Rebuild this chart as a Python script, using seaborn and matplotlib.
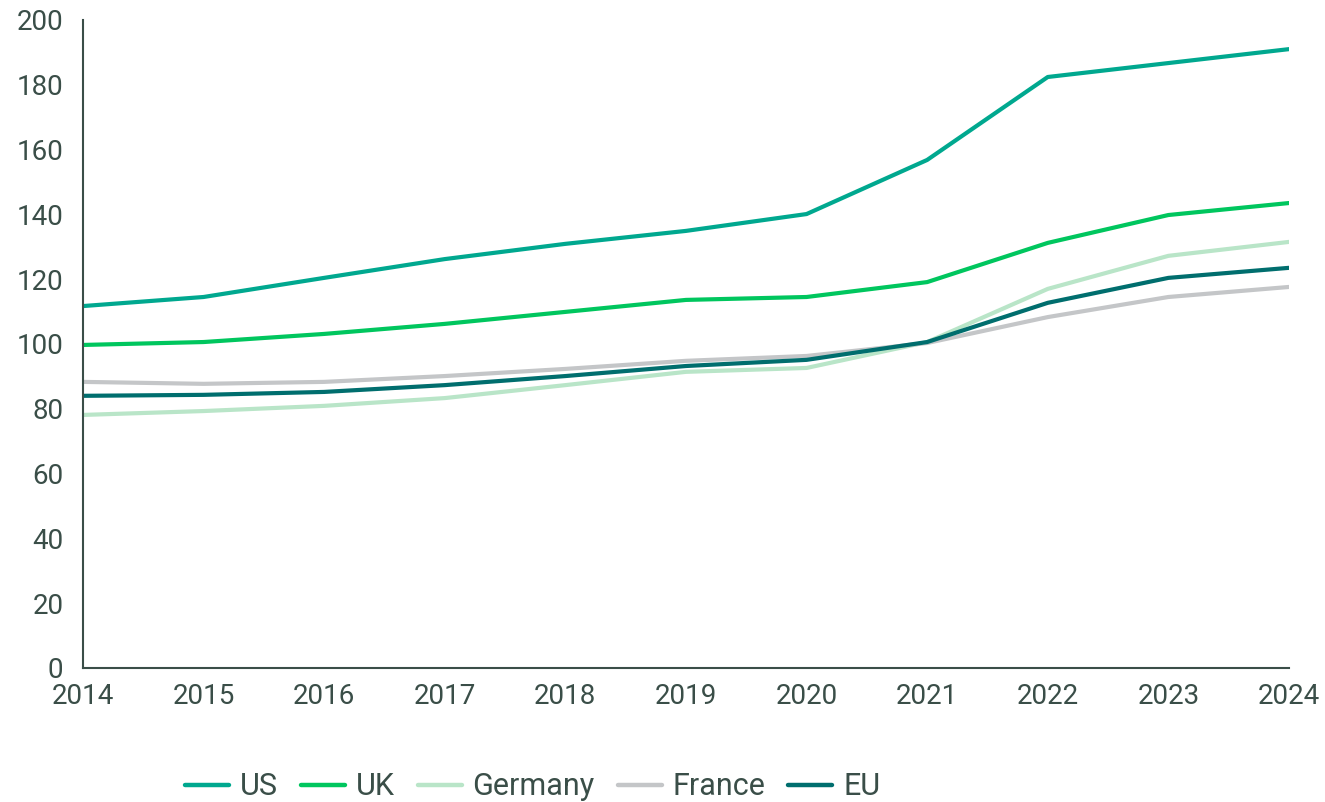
"""
Index lines for US, UK, Germany, France and EU, 2014-2024.
"""

import pandas as pd
import matplotlib.pyplot as plt
import seaborn as sns

years = list(range(2014, 2025))
us = [111.7, 114.5, 120.4, 126.2, 130.9, 134.9, 140.1, 156.8, 182.4, 186.7, 191.0]
uk = [99.7, 100.6, 103.1, 106.2, 109.9, 113.6, 114.5, 119.1, 131.2, 139.8, 143.5]
germany = [78.1, 79.3, 80.9, 83.3, 87.3, 91.4, 92.6, 100.6, 117.0, 127.2, 131.5]
france = [88.3, 87.7, 88.3, 90.1, 92.3, 94.8, 96.3, 100.3, 108.3, 114.5, 117.6]
eu = [84.0, 84.3, 85.2, 87.3, 90.1, 93.2, 95.1, 100.6, 112.7, 120.4, 123.5]

series = {"US": us, "UK": uk, "Germany": germany, "France": france, "EU": eu}
colors = {"US": "#00A88F", "UK": "#00C65E", "Germany": "#B9E5C8",
          "France": "#C4C6C8", "EU": "#006E6E"}
TEXT = "#3A4E48"

df = pd.concat(
    [pd.DataFrame({"year": years, "value": v, "series": k}) for k, v in series.items()],
    ignore_index=True,
)

sns.set_style("white")
plt.rcParams["font.family"] = ["Roboto", "DejaVu Sans"]

fig = plt.figure(figsize=(13.25, 8.02), dpi=100)
ax = fig.add_axes([0.0626, 0.1671, 0.9102, 0.808])

sns.lineplot(data=df, x="year", y="value", hue="series", palette=colors,
             hue_order=list(series.keys()), linewidth=3, ax=ax,
             solid_capstyle="round", legend=False)

ax.set_xlim(2014, 2024)
ax.set_ylim(0, 200)
ax.set_xticks(years)
ax.set_yticks(range(0, 201, 20))
ax.set_xlabel("")
ax.set_ylabel("")
for side in ["top", "right"]:
    ax.spines[side].set_visible(False)
for side in ["left", "bottom"]:
    ax.spines[side].set_color(TEXT)
    ax.spines[side].set_linewidth(1.5)
ax.tick_params(axis="x", direction="out", length=6, width=1.5, color=TEXT,
               labelcolor=TEXT, labelsize=20, pad=5)
ax.tick_params(axis="y", length=0, labelcolor=TEXT, labelsize=20, pad=14)

handles = [plt.Line2D([], [], color=colors[k], lw=3.2, solid_capstyle="round")
           for k in series]
fig.legend(handles, list(series.keys()), loc="center", ncol=5,
           bbox_to_anchor=(0.402, 0.019), frameon=False, handlelength=1.44,
           columnspacing=0.75, handletextpad=0.36,
           prop={"size": 22}, labelcolor=TEXT)

fig.savefig("out.png", dpi=100)
